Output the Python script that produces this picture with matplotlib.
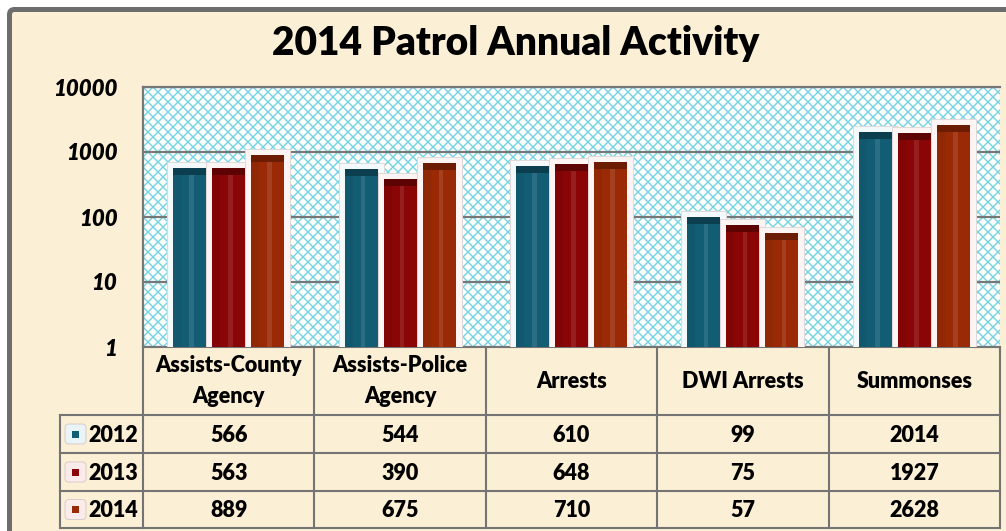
import matplotlib
matplotlib.use('Agg')
import matplotlib.pyplot as plt
import numpy as np
from matplotlib.patches import Rectangle, FancyBboxPatch
from matplotlib.collections import LineCollection
from matplotlib.ticker import NullLocator

plt.rcParams['font.family'] = ['Lato', 'DejaVu Sans']

# ---------------- data ----------------
categories = ["Assists-County\nAgency", "Assists-Police\nAgency", "Arrests", "DWI Arrests", "Summonses"]
years = ["2012", "2013", "2014"]
v2012 = [566, 544, 610, 99, 2014]
v2013 = [563, 390, 648, 75, 1927]
v2014 = [889, 675, 710, 57, 2628]
series = [v2012, v2013, v2014]
yticks = [1, 10, 100, 1000, 10000]
ytick_labels = ["1", "10", "100", "1000", "10000"]
title = "2014 Patrol Annual Activity"

colors = ['#135d74', '#8a0606', '#9a2a06']
dark = ['#0b3e4e', '#5e0303', '#6b1c03']
glowface = ['#f4fafb', '#fdf4f3', '#fdf4f3']
keyface = ['#eaf4f6', '#fbeceb', '#fbeceb']
TXT = '#000000'

W, H = 1006, 531
fig = plt.figure(figsize=(W / 100, H / 100), dpi=100)
fig.patch.set_facecolor('white')

# background / pixel axes
bg = fig.add_axes([0, 0, 1, 1], zorder=0)
bg.set_xlim(0, W)
bg.set_ylim(H, 0)
bg.axis('off')

frame = FancyBboxPatch((9.5, 9.5), 1100, 600, boxstyle='round,pad=0,rounding_size=5',
                       fc='#fbefd5', ec='#6d6d6d', lw=3.6)
bg.add_patch(frame)

PL, PR, PT, PB = 143, 1000, 87, 347
bg.add_patch(Rectangle((PL, PT), PR - PL, PB - PT, fc='white', ec='none'))
step = 10
hgt = PB - PT
segs = []
for c in np.arange(PL - hgt - step, PR + hgt + step, step):
    segs.append([(c, PT), (c + hgt, PB)])
    segs.append([(c, PB), (c + hgt, PT)])
lc = LineCollection(segs, colors='#74d2e2', linewidths=1.0)
bg.add_collection(lc)
clip = Rectangle((PL, PT), PR - PL, PB - PT, transform=bg.transData)
lc.set_clip_path(clip)

bg.text(516, 44, title, fontsize=28, fontweight='heavy', ha='center', va='center', color=TXT)

# ---------------- main chart ----------------
ax = fig.add_axes([PL / W, 1 - PB / H, (PR - PL) / W, (PB - PT) / H], zorder=1)
ax.set_facecolor('none')
ax.set_yscale('log')
ax.set_ylim(1, 10000)
ax.set_xlim(-0.5, len(categories) - 0.5)
ax.set_yticks(yticks)
ax.set_yticklabels(ytick_labels, fontsize=16, fontweight='heavy', style='italic', color=TXT)
ax.yaxis.set_minor_locator(NullLocator())
ax.tick_params(axis='y', length=0, pad=18.5)
ax.set_xticks([])
ax.grid(axis='y', color='#777777', lw=1.6)
ax.set_axisbelow(True)
for side in ['right', 'bottom']:
    ax.spines[side].set_visible(False)
for side in ['left', 'top']:
    ax.spines[side].set_color('#777777')
    ax.spines[side].set_linewidth(1.6)

colw = (PR - PL) / len(categories)
decade = (PB - PT) / 4.0
bw = 33 / colw
off = 39 / colw
g = 6 / colw
gf = 10 ** (6 / decade)
capf = 10 ** (7 / decade)
x0 = np.arange(len(categories))
for i, s in enumerate(series):
    s = np.array(s, dtype=float)
    x = x0 + (i - 1) * off
    ax.bar(x, s * gf - 1, width=bw + 2 * g, bottom=1, color=glowface[i],
           edgecolor='#e0d8d8', lw=0.7, zorder=2 + i * 5)
    ax.bar(x, s - 1, width=bw, bottom=1, color=colors[i], zorder=3 + i * 5)
    ax.bar(x - bw * 0.38, s - 1, width=bw * 0.24, bottom=1, color='black', alpha=0.06,
           zorder=3.2 + i * 5, lw=0)
    ax.bar(x + bw * 0.06, s - 1, width=bw * 0.14, bottom=1, color='white', alpha=0.10,
           zorder=3.3 + i * 5, lw=0)
    ax.bar(x, s - s / capf, width=bw, bottom=s / capf, color=dark[i], zorder=3.5 + i * 5, lw=0)

# ---------------- data table ----------------
lc_col = '#747474'
lw_t = 1.5
TT, R1, R2, R3, TB = PB, 415, 453, 491, 528
LX = 60
edges = [PL + k * colw for k in range(len(categories) + 1)]
bg.plot([PL, PR], [TT, TT], color=lc_col, lw=lw_t, zorder=5)
for yy in [R1, R2, R3, TB]:
    bg.plot([LX, PR], [yy, yy], color=lc_col, lw=lw_t, zorder=5)
for xx in edges:
    bg.plot([xx, xx], [TT, TB], color=lc_col, lw=lw_t, zorder=5)
bg.plot([LX, LX], [R1, TB], color=lc_col, lw=lw_t, zorder=5)

for k, cat in enumerate(categories):
    xc = (edges[k] + edges[k + 1]) / 2
    bg.text(xc, 381, cat, fontsize=15.5, fontweight='heavy', ha='center', va='center',
            linespacing=1.6, color=TXT, zorder=6)

row_centers = [(R1 + R2) / 2, (R2 + R3) / 2, (R3 + TB) / 2]
for i, (yr, s) in enumerate(zip(years, series)):
    yc = row_centers[i]
    bg.add_patch(FancyBboxPatch((65, yc - 10), 21, 20, boxstyle='round,pad=0,rounding_size=4',
                                fc=keyface[i], ec='#d6cccc', lw=0.7, zorder=6))
    bg.add_patch(Rectangle((72, yc - 3.5), 7, 7, fc=colors[i], ec='none', zorder=7))
    bg.text(88, yc + 1, yr, fontsize=15.5, fontweight='heavy', ha='left', va='center',
            color=TXT, zorder=6)
    for k, v in enumerate(s):
        xc = (edges[k] + edges[k + 1]) / 2
        bg.text(xc, yc + 1, str(v), fontsize=15.5, fontweight='heavy', ha='center', va='center',
                color=TXT, zorder=6)

fig.savefig('out.png', dpi=100)
